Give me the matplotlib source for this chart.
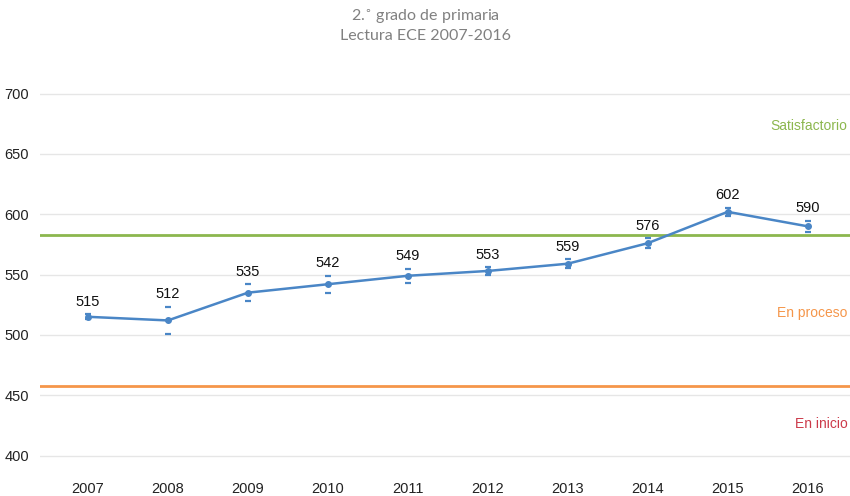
import matplotlib
matplotlib.use('Agg')
import matplotlib.pyplot as plt

plt.rcParams['font.family'] = ['Liberation Sans', 'DejaVu Sans']

years = [2007, 2008, 2009, 2010, 2011, 2012, 2013, 2014, 2015, 2016]
scores = [515, 512, 535, 542, 549, 553, 559, 576, 602, 590]
errors = [2, 11.5, 7, 7, 6, 3, 3.5, 4, 3.5, 4.5]
limit_proceso = 458
limit_satisf = 583

blue = '#4a86c6'
green = '#8cb74e'
orange = '#f5964a'
red = '#cc3a4a'

fig = plt.figure(figsize=(8.5, 4.96), dpi=100)
ax = fig.add_axes([0.047, 0.045, 0.953, 0.815])

ax.set_ylim(385, 720)
ax.set_xlim(2006.4, 2016.53)
ax.set_yticks([400, 450, 500, 550, 600, 650, 700])
ax.set_xticks(years)
ax.yaxis.grid(True, color='#e6e6e6', linewidth=1)
ax.set_axisbelow(True)
for s in ax.spines.values():
    s.set_visible(False)
ax.tick_params(axis='both', length=0, labelsize=10.5, colors='#222222')
ax.tick_params(axis='y', pad=8)
ax.tick_params(axis='x', pad=6)

ax.axhline(limit_satisf, color=green, linewidth=2)
ax.axhline(limit_proceso, color=orange, linewidth=2)

ax.errorbar(years, scores, yerr=errors, color=blue, linewidth=1.8,
            marker='o', markersize=4, ecolor=blue, elinewidth=0,
            capsize=2.3, capthick=1.6, zorder=3)

for x, y, e in zip(years, scores, errors):
    ax.annotate(str(y), (x, y + e), xytext=(0, 4), textcoords='offset points',
                ha='center', va='bottom', fontsize=10.5, color='#111111')

ax.text(2016.5, 673.5, 'Satisfactorio', color=green, ha='right', va='center', fontsize=10)
ax.text(2016.5, 518.5, 'En proceso', color=orange, ha='right', va='center', fontsize=10)
ax.text(2016.5, 426, 'En inicio', color=red, ha='right', va='center', fontsize=10)

fig.text(0.5, 0.985, '2.$^{\\circ}$ grado de primaria\nLectura ECE 2007-2016',
         ha='center', va='top', fontsize=11.5, color='#808080',
         family=['Lato', 'DejaVu Sans'], linespacing=1.2)

fig.savefig('out.png', dpi=100)
